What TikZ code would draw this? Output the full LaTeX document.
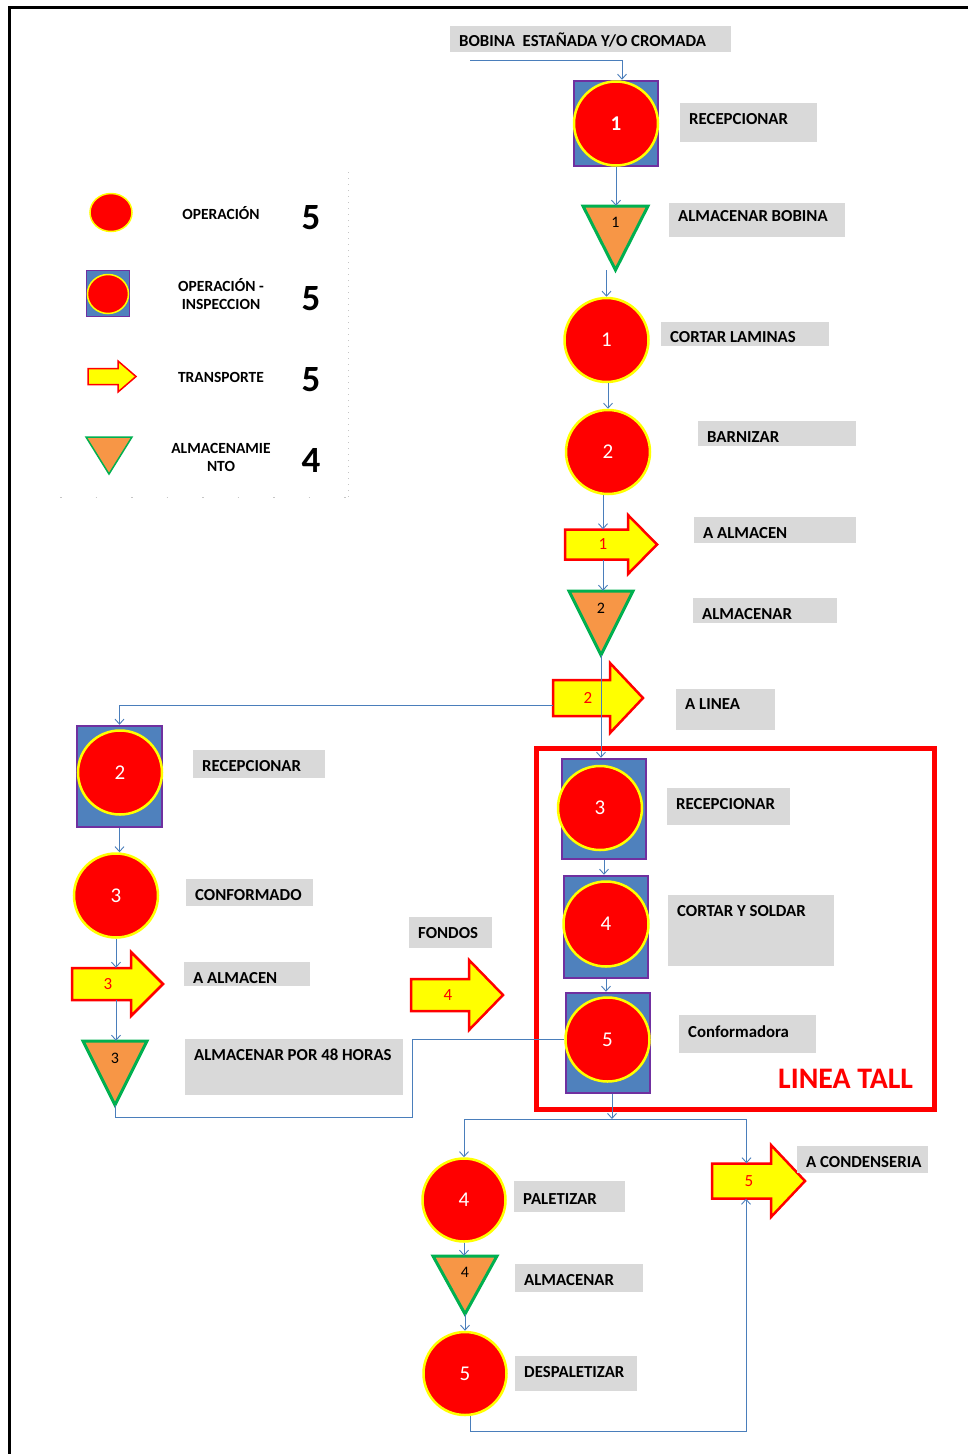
\documentclass[tikz,border=0pt]{standalone}
\usepackage{fontspec}
\setmainfont{Carlito}
\usetikzlibrary{arrows.meta,shapes.geometric}
\definecolor{cblue}{HTML}{4A7EBB}
\definecolor{lgray}{HTML}{D9D9D9}
\definecolor{sqblue}{HTML}{4F81BD}
\definecolor{purp}{HTML}{7030A0}
\definecolor{orng}{HTML}{F79646}
\definecolor{grn}{HTML}{00B050}
\definecolor{pred}{HTML}{FF0000}
\definecolor{pyel}{HTML}{FFFF00}
\newcommand\lab[7]{%
 \pgfmathsetmacro\labw{#4-18}%
 \pgfmathsetmacro\labd{#5-#6}%
 \node[lbl, text height=#6pt, text depth=\labd pt] (#1) at (#2,#3) {\makebox[\labw pt][l]{#7}};}
\newcommand\tarr[9]{%
 \draw[trshape] (#2,#3-#6) -- (#4,#3-#6) -- (#4,#3-#7) -- (#5,#3) -- (#4,#3+#7) -- (#4,#3+#6) -- (#2,#3+#6) -- cycle;
 \node[tbody, minimum width={#4-#2}, minimum height={2*#6}] (#1) at ({(#2+#4)/2},#3) {};
 \node[tnum] (#1n) at (#9,#3) {#8};}
\newcommand\tri[7]{%
 \draw[trishape] (#2-#4,#3) -- (#2+#4,#3) -- (#2,#3+#5) -- cycle;
 \node[inner sep=0pt, minimum width={2*#4}, minimum height=#5] (#1) at (#2,{#3+#5/2}) {};
 \node[trinum] (#1n) at (#2,#6) {#7};}
\begin{document}
\begin{tikzpicture}[x=1pt,y=-1pt,
 conn/.style={draw=cblue, line width=0.9pt, -{Straight Barb[length=5pt,width=9pt]}},
 connp/.style={draw=cblue, line width=0.9pt},
 op/.style={circle, fill=pred, draw=pyel, line width=2.5pt, inner sep=0pt, text=white, font=\fontsize{21}{21}\selectfont},
 opsq/.style={rectangle, fill=sqblue, draw=purp, line width=2.5pt, inner sep=0pt},
 trishape/.style={fill=orng, draw=grn, line width=3pt, line join=miter},
 trinum/.style={font=\fontsize{16}{16}\selectfont, text=black, inner sep=0pt},
 trshape/.style={fill=pyel, draw=pred, line width=2.5pt, line join=miter},
 tbody/.style={inner sep=0pt},
 tnum/.style={font=\fontsize{17}{17}\selectfont, text=pred, inner sep=0pt},
 lbl/.style={fill=lgray, inner xsep=9pt, inner ysep=0pt, anchor=north west, font=\bfseries\fontsize{16.8}{17}\selectfont},
 leg/.style={font=\bfseries\fontsize{15.5}{17.5}\selectfont, align=center, inner sep=0pt, anchor=base},
 legn/.style={font=\bfseries\fontsize{37}{37}\selectfont, anchor=base, inner sep=0pt},
]
\useasboundingbox (0,0) rectangle (968,1454);
\fill[white] (0,0) rectangle (968,1454);
% page border
\draw[line width=3pt] (9,1454) -- (9,7.5) -- (968,7.5);

% legend
\draw[gray!45, line width=0.8pt, dash pattern=on 1pt off 5pt] (348,172) -- (348,497);
\draw[gray!45, line width=0.8pt, dash pattern=on 1.5pt off 34pt] (60,497) -- (348,497);
\node[op, ellipse, minimum width=42, minimum height=38, line width=1.5pt] (lgop) at (111,212.5) {};
\node[opsq, minimum width=43, minimum height=46, line width=1.5pt] (lgsq) at (108,293.5) {};
\node[op, ellipse, minimum width=41, minimum height=39, line width=1.5pt] (lgsqc) at (108,294) {};
\begin{scope}[trshape/.append style={line width=1.5pt}, trishape/.append style={line width=1.5pt}]
\tarr{lgtr}{88}{376.5}{118}{136}{8}{15.5}{}{103}
\tri{lgtri}{109}{437}{23}{37}{455}{}
\end{scope}
\node[leg] (lgt1) at (221,219.3) {OPERACIÓN};
\node[leg] (lgt2) at (221,309) {OPERACIÓN -\\INSPECCION};
\node[leg] (lgt3) at (221,382) {TRANSPORTE};
\node[leg] (lgt4) at (221,471) {ALMACENAMIE\\NTO};
\node[legn] (lgn1) at (311,229) {5};
\node[legn] (lgn2) at (311,310) {5};
\node[legn] (lgn3) at (311,391) {5};
\node[legn] (lgn4) at (311,472) {4};

% red frame
\node[draw=pred, line width=5pt, minimum width=398, minimum height=361, inner sep=0pt] (tall) at (735.5,929) {};
\node[font=\bfseries\fontsize{29.8}{30}\selectfont, text=pred, anchor=base west, inner sep=0pt] (tallt) at (778,1088) {LINEA TALL};

% main column
\node[opsq, minimum width=84, minimum height=85] (sq1) at (616,123.5) {};
\node[op, minimum size=84] (c1i) at (616,123.5) {\textbf{1}};
\tri{tri1}{615.5}{206}{32.5}{64}{222}{1}
\node[op, minimum size=84] (c1) at (606.5,340) {1};
\node[op, minimum size=84] (c2) at (608,452) {2};
\tarr{t1}{565}{544.5}{628}{657}{15}{29.5}{1}{603}
\tri{tri2}{601}{591}{32}{64}{608}{2}
\tarr{t2}{553}{698}{610}{643}{18}{35}{2}{588}

% left column
\node[opsq, minimum width=85, minimum height=101] (sq2) at (119.5,776.5) {};
\node[op, minimum size=84] (c2i) at (120,772.5) {2};
\node[op, minimum size=84] (c3) at (116,895.5) {3};
\tarr{t3}{72}{984}{131}{163}{16}{32}{3}{108}
\tri{tri3}{115}{1041}{32}{64}{1058}{3}
\tarr{t4}{411}{995}{469}{503}{16}{35}{4}{448}

% linea tall
\node[opsq, minimum width=84, minimum height=100] (sq3) at (604,809) {};
\node[op, minimum size=84] (c3i) at (600,808) {3};
\node[opsq, minimum width=84, minimum height=102] (sq4) at (606,927) {};
\node[op, minimum size=85] (c4i) at (606,924) {4};
\node[opsq, minimum width=84, minimum height=100] (sq5) at (608,1043) {};
\node[op, minimum size=84] (c5i) at (607.5,1039.5) {5};

% bottom
\tarr{t5}{712}{1181}{771}{805}{17.5}{36}{5}{749}
\node[op, minimum size=83] (c4b) at (464,1200) {4};
\tri{tri4}{465}{1256}{32}{58}{1272}{4}
\node[op, minimum size=83] (c5b) at (465,1373.5) {5};

% labels
\lab{lbob}{450}{26}{281}{26}{20}{BOBINA\ \ ESTAÑADA Y/O CROMADA}
\lab{lrec1}{680}{103}{137}{39}{21}{RECEPCIONAR}
\lab{lalmb}{669}{203}{176}{34}{18}{ALMACENAR BOBINA}
\lab{lcort}{661}{322}{168}{24}{20}{CORTAR LAMINAS}
\lab{lbarn}{698}{421}{158}{25}{21}{BARNIZAR}
\lab{lalm1}{694}{517}{162}{26}{21}{A ALMACEN}
\lab{lalm2}{693}{598}{144}{25}{21}{ALMACENAR}
\lab{llin}{676}{689}{99}{41}{20}{A LINEA}
\lab{lrec2}{193}{750}{132}{28}{21}{RECEPCIONAR}
\lab{lconf}{186}{879}{127}{27}{21}{CONFORMADO}
\lab{lalm3}{184}{962}{126}{24}{21}{A ALMACEN}
\lab{l48}{185}{1039}{218}{56}{21}{ALMACENAR POR 48 HORAS}
\lab{lfond}{409}{917}{83}{31}{21}{FONDOS}
\lab{lrec3}{667}{788}{123}{37}{21}{RECEPCIONAR}
\lab{lcys}{668}{895}{166}{71}{21}{CORTAR Y SOLDAR}
\lab{lconfm}{679}{1015}{137}{38}{22}{Conformadora}
\lab{lcond}{797}{1146}{131}{27}{21}{A CONDENSERIA}
\lab{lpal}{514}{1181}{111}{31}{23}{PALETIZAR}
\lab{lalm4}{515}{1264}{128}{28}{21}{ALMACENAR}
\lab{ldesp}{515}{1356}{122}{35}{21}{DESPALETIZAR}

% connectors
\coordinate (start) at (470,60);
\draw[conn] (start) -| ([xshift=6pt]sq1.north);
\draw[conn] (sq1.south) -- (sq1.south |- tri1.north);
\draw[conn] (tri1.south -| c1.north) -- (c1.north);
\draw[conn] (c1.south -| c2.north) -- (c2.north);
\draw[conn] (c2.south -| t1n) -- (t1.north -| t1n);
\draw[conn] (t1.south -| t1n) -- (tri2.north -| t1n);
\draw[conn] (tri2.south) -- (tri2.south |- sq3.north);
\draw[conn] ([yshift=-7pt]t2.west) -| (sq2.north);
\draw[conn] (sq2.south) -- (sq2.south |- c3.north);
\draw[conn] (c3.south) -- (c3.south |- t3.north);
\draw[conn] (c3.south |- t3.south) -- (c3.south |- tri3.north);
\coordinate (j1) at (412,1117);
\draw[connp] (tri3.south) |- (j1) |- (c5i.west);
\draw[conn] (sq3.south) -- (sq3.south |- sq4.north);
\draw[conn] (sq4.south) -- (sq4.south |- sq5.north);
\coordinate (j2) at (612,1119);
\draw[conn] (sq5.south -| j2) -- (j2);
\draw[conn] (j2) -| (c4b.north);
\draw[conn] (j2) -| ([xshift=5pt]t5.north);
\draw[conn] (c4b.south) -- (c4b.south |- tri4.north);
\draw[conn] (tri4.south) -- (tri4.south |- c5b.north);
\coordinate (j4) at (746,1431);
\draw[conn] ([xshift=5pt]c5b.south) |- (j4) -- (j4 |- t5.south);
\end{tikzpicture}
\end{document}
